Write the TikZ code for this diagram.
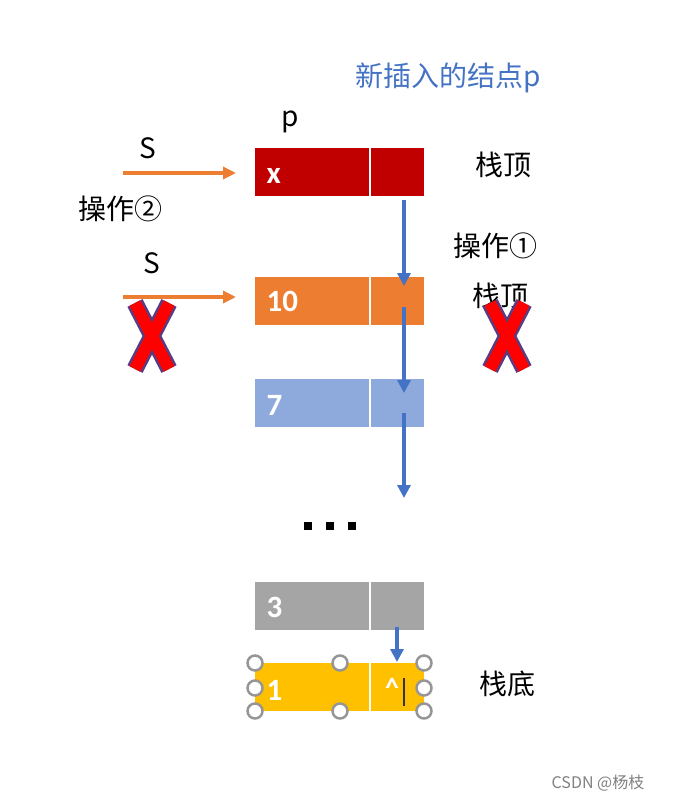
\documentclass[tikz,border=0pt]{standalone}
\usepackage{fontspec}
\setmainfont{Noto Sans CJK SC}
\newfontfamily\numf{Carlito}
\begin{document}
\begin{tikzpicture}[x=1pt,y=-1pt,
 cell/.style={draw=white,line width=1.5pt,minimum height=48pt,inner sep=0pt},
 num/.style={text=white,font=\numf\fontsize{31}{31}\bfseries\selectfont,anchor=west},
 lab/.style={font=\fontsize{28}{28}\selectfont},
 barr/.style={-{Triangle[width=13pt,length=13pt]},line width=4pt,draw={rgb,255:red,68;green,114;blue,196}},
 oarr/.style={-{Triangle[width=12pt,length=13pt]},line width=3.5pt,draw={rgb,255:red,237;green,125;blue,49}},
 hdl/.style={circle,draw={rgb,255:red,150;green,150;blue,150},line width=2.5pt,fill=white,minimum size=15pt,inner sep=0pt}]
\usetikzlibrary{arrows.meta}
\useasboundingbox (0,0) rectangle (675,803);
\definecolor{cr}{RGB}{192,0,0}\definecolor{co}{RGB}{237,125,49}
\definecolor{cb}{RGB}{142,169,219}\definecolor{cg}{RGB}{165,165,165}\definecolor{cy}{RGB}{255,192,0}
\foreach \n/\y/\c in {r/148/cr,o/277/co,b/379/cb,g/582/cg,y/663/cy}{
 \path[fill=\c] (255,\y) rectangle (424,\y+48);
 \draw[white,line width=2pt] (369.5,\y) -- (369.5,\y+48);
}
\node[num] (tx) at (263,176) {x};
\node[num] (t10) at (263,301) {10};
\node[num] (t7) at (263,405) {7};
\node[num] (t3) at (263,607) {3};
\node[num] (t1) at (263,690) {1};
\node[text=white,font=\numf\fontsize{28}{28}\bfseries\selectfont] (caret) at (392,688) {\^{}};
\draw[line width=2pt,black!80] (404,678) -- (404,706);
\coordinate (a1s) at (404,200); \coordinate (a1e) at (404,286);
\coordinate (a2s) at (404,307); \coordinate (a2e) at (404,393);
\coordinate (a3s) at (404,413); \coordinate (a3e) at (404,498);
\coordinate (a4s) at (397,627); \coordinate (a4e) at (397,662);
\draw[barr] (a1s) -- (a1e); \draw[barr] (a2s) -- (a2e);
\draw[barr] (a3s) -- (a3e); \draw[barr] (a4s) -- (a4e);
\coordinate (s1s) at (123,173); \coordinate (s1e) at (236,173);
\coordinate (s2s) at (123,297); \coordinate (s2e) at (236,297);
\draw[oarr] (s1s) -- (s1e); \draw[oarr] (s2s) -- (s2e);
\node[lab,text={rgb,255:red,68;green,114;blue,196}] (title) at (448,78) {新插入的结点p};
\node[lab] (p) at (290,122) {p};
\node[lab] (S1) at (148,148) {S};
\node[lab] (S2) at (152,263) {S};
\node[lab] (op2) at (120,209) {操作②};
\node[lab] (top1) at (503,165) {栈顶};
\node[lab] (op1) at (495,246) {操作①};
\node[lab] (top2) at (500,296) {栈顶};
\node[lab] (bot) at (507,684) {栈底};
\node (dots) at (330,526) {};
\foreach \dx in {-22,0,22} \fill (330+\dx-4,522) rectangle (330+\dx+4,530);
\node[font=\fontsize{16}{16}\selectfont,text=gray] (csdn) at (598,783) {CSDN @杨枝};
\foreach \cx in {152,507}{
 \foreach \w/\col in {17/{rgb,255:red,90;green,60;blue,130},12/red}{
  \draw[line width=\w pt,color=\col] (\cx-17,303) -- (\cx+17,369);
  \draw[line width=\w pt,color=\col] (\cx+17,303) -- (\cx-17,369);
 }
}
\foreach \hx/\hy in {255/663,340/663,424/663,255/688,424/688,255/711,340/711,424/711}
 \node[hdl] at (\hx,\hy) {};
\end{tikzpicture}
\end{document}
